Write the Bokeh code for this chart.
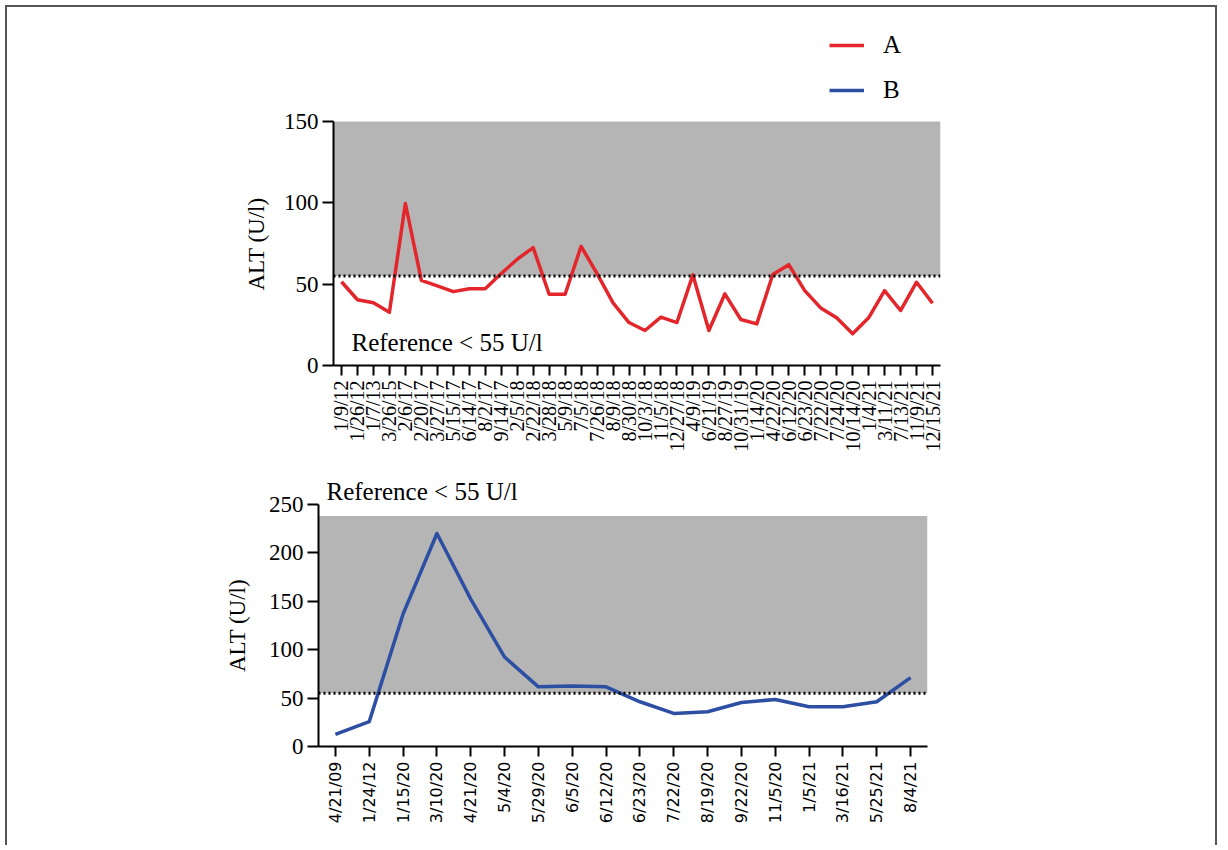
import math
from bokeh.plotting import figure
from bokeh.models import (FactorRange, Range1d, BoxAnnotation, Span, Label,
                          Legend, LegendItem, FixedTicker, Title)
from bokeh.embed import file_html
from bokeh.resources import INLINE

# ---------------- data ----------------
dates_a = ["1/9/12", "1/26/12", "1/7/13", "3/26/15", "2/6/17", "2/20/17", "3/27/17",
           "5/15/17", "6/14/17", "8/2/17", "9/14/17", "2/5/18", "2/22/18", "3/28/18",
           "5/9/18", "7/5/18", "7/26/18", "8/9/18", "8/30/18", "10/3/18", "11/5/18",
           "12/27/18", "4/9/19", "6/21/19", "8/27/19", "10/31/19", "1/14/20", "4/22/20",
           "6/12/20", "6/23/20", "7/22/20", "7/24/20", "10/14/20", "1/4/21", "3/11/21",
           "7/13/21", "11/9/21", "12/15/21"]
alt_a = [51.5, 40.4, 38.6, 32.7, 99.6, 52.3, 48.9, 45.4, 47.2, 47.2,
         56.5, 65.3, 72.5, 43.8, 43.8, 73.2, 56.5, 38.5, 26.4, 21.5,
         29.7, 26.4, 55.7, 21.5, 44.0, 28.3, 25.6, 55.9, 62.0, 46.0,
         35.4, 29.3, 19.5, 29.3, 46.0, 33.8, 51.2, 38.3]

dates_b = ["4/21/09", "1/24/12", "1/15/20", "3/10/20", "4/21/20", "5/4/20", "5/29/20",
           "6/5/20", "6/12/20", "6/23/20", "7/22/20", "8/19/20", "9/22/20", "11/5/20",
           "1/5/21", "3/16/21", "5/25/21", "8/4/21"]
alt_b = [12.6, 25.7, 136.9, 220.0, 152.3, 92.4, 61.6, 62.6, 61.6, 46.2,
         34.2, 35.9, 45.5, 48.6, 41.0, 41.0, 46.2, 71.1]

series_names = ["A", "B"]
ref_limit = 55
ref_text = "Reference < 55 U/l"
y_label = "ALT (U/l)"
y_ticks_a = [0, 50, 100, 150]
y_ticks_b = [0, 50, 100, 150, 200, 250]
y_max_a = 150
y_max_b = 250
grey_top_b = 238

# ---------------- style / layout ----------------
RED = "#e3262b"
BLUE = "#2d4fa3"
GREY = "#b4b5b4"
SERIF = "Liberation Serif"
SANS = "DejaVu Sans"
EDGE = "2px solid #555555"

# top chart: the frame reaches above the axis (room for the key);
# 0..150 spans 244 px of a 341 px frame
AXIS_PX_A = 244
FRAME_PX_A = 341
y_end_a = y_max_a * FRAME_PX_A / AXIS_PX_A


def style_axes(p, y_ticks, xfont, xsize):
    p.xgrid.visible = False
    p.ygrid.visible = False
    p.outline_line_color = None
    for ax in (p.xaxis, p.yaxis):
        ax.axis_line_color = "black"
        ax.axis_line_width = 2
        ax.major_tick_line_color = "black"
        ax.major_tick_line_width = 2
        ax.major_tick_in = 0
        ax.minor_tick_line_color = None
    p.xaxis.major_tick_out = 10
    p.xaxis.major_label_orientation = math.pi / 2
    p.xaxis.major_label_text_font = xfont
    p.xaxis.major_label_text_font_size = xsize
    p.xaxis.major_label_text_color = "black"
    p.xaxis.major_label_standoff = 5
    p.yaxis.ticker = FixedTicker(ticks=y_ticks)
    p.yaxis.major_tick_out = 11
    p.yaxis.major_label_text_font = SERIF
    p.yaxis.major_label_text_font_size = "23px"
    p.yaxis.major_label_text_color = "black"
    p.yaxis.major_label_standoff = 4
    p.yaxis.axis_label_text_font = SERIF
    p.yaxis.axis_label_text_font_size = "23px"
    p.yaxis.axis_label_text_font_style = "normal"
    p.yaxis.axis_label_text_color = "black"
    p.yaxis.axis_label_standoff = 16


# ---------------- top chart ----------------
p1 = figure(width=1212, height=460, output_backend="svg", toolbar_location=None,
            x_range=FactorRange(factors=dates_a, range_padding=0),
            y_range=Range1d(0, y_end_a),
            min_border_left=326, min_border_right=279,
            min_border_top=17, min_border_bottom=102,
            styles={"border-top": EDGE, "border-left": EDGE, "border-right": EDGE,
                    "margin-left": "5px", "margin-top": "5px"})
style_axes(p1, y_ticks_a, SERIF, "20px")
p1.yaxis.bounds = (0, y_max_a)
# axis title placed along the 0..150 part of the frame
p1.add_layout(Title(text=y_label, align="left", offset=75, standoff=24,
                    text_font=SERIF, text_font_size="23px", text_font_style="normal",
                    text_color="black"), "left")
p1.add_layout(BoxAnnotation(bottom=ref_limit, top=y_max_a, fill_color=GREY, fill_alpha=1,
                            line_color=None, level="underlay"))
p1.add_layout(Span(location=ref_limit, dimension="width", line_color="black",
                   line_width=3, line_dash="2 3"))
ra = p1.line(x=dates_a, y=alt_a, line_color=RED, line_width=3.5, line_join="round")
# key entry for series B (its data are drawn in the lower chart)
rb_key = p1.line(x=dates_a[:2], y=[float("nan"), float("nan")],
                 line_color=BLUE, line_width=3.5)
p1.add_layout(Label(x=18, y=23, x_units="screen", y_units="screen", text=ref_text,
                    text_font=SERIF, text_font_size="25px", text_color="black",
                    text_baseline="alphabetic"))
legend = Legend(items=[LegendItem(label=series_names[0], renderers=[ra]),
                       LegendItem(label=series_names[1], renderers=[rb_key])],
                location=(496, 260), orientation="vertical",
                glyph_width=35, glyph_height=30, label_height=30,
                label_standoff=19, spacing=15, padding=0, margin=0,
                border_line_color=None, background_fill_alpha=0,
                label_text_font=SERIF, label_text_font_size="25px",
                label_text_color="black")
p1.add_layout(legend)

# ---------------- bottom chart ----------------
p2 = figure(width=1212, height=380, output_backend="svg", toolbar_location=None,
            x_range=FactorRange(factors=dates_b, range_padding=0),
            y_range=Range1d(0, y_max_b),
            min_border_left=311, min_border_right=292,
            min_border_top=39, min_border_bottom=99,
            styles={"border-left": EDGE, "border-right": EDGE, "margin-left": "5px"})
style_axes(p2, y_ticks_b, SANS, "16px")
p2.yaxis.axis_label = y_label
p2.add_layout(BoxAnnotation(bottom=ref_limit, top=grey_top_b, fill_color=GREY,
                            fill_alpha=1, line_color=None, level="underlay"))
p2.add_layout(Span(location=ref_limit, dimension="width", line_color="black",
                   line_width=3, line_dash="2 3"))
p2.line(x=dates_b, y=alt_b, line_color=BLUE, line_width=3.5, line_join="round")
p2.title.text = ref_text
p2.title.align = "left"
p2.title.offset = 8
p2.title.standoff = 0
p2.title.text_font = SERIF
p2.title.text_font_size = "25px"
p2.title.text_font_style = "normal"
p2.title.text_color = "black"

open("out.html", "w").write(file_html([p1, p2], INLINE))
